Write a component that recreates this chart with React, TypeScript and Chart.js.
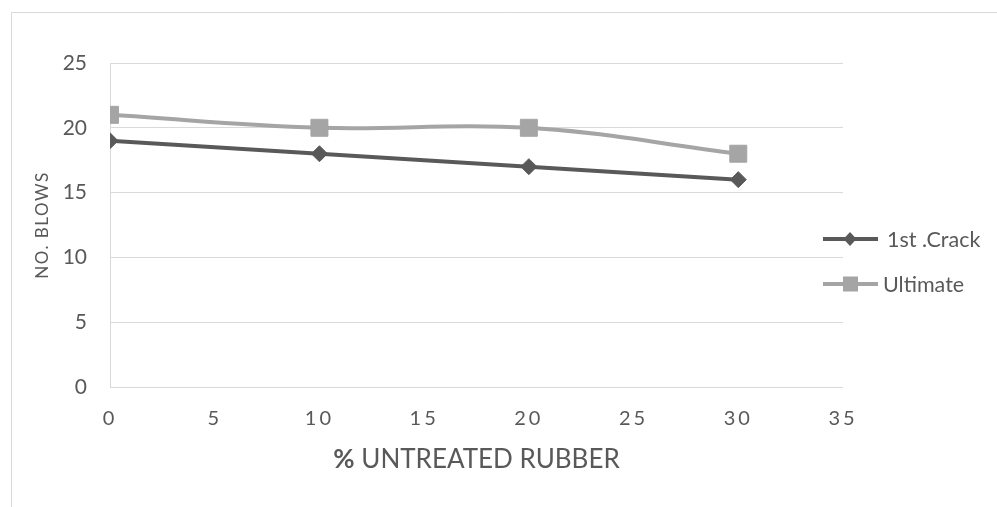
import React, { useEffect, useRef } from "react";
import { Chart, registerables } from "chart.js";

Chart.register(...registerables);

const untreatedRubber = [0, 10, 20, 30];
const firstCrackBlows = [19, 18, 17, 16];
const ultimateBlows = [21, 20, 20, 18];
const seriesNames = ["1st .Crack", "Ultimate"];
const xAxisTitleBold = "%";
const xAxisTitleRest = " UNTREATED RUBBER";
const yAxisTitle = "NO. BLOWS";

const DARK = "#595959";
const LIGHT = "#a5a5a5";
const GRID = "#d9d9d9";
const TEXT = "#595959";
const FONT = "Lato";

// Frame, axis titles and the legend drawn on top of the chart
const decorations = {
  id: "decorations",
  afterDraw(chart: Chart) {
    const ctx = chart.ctx;
    const area = chart.chartArea;
    ctx.save();

    // outer frame (only top and left edges fall inside the canvas)
    ctx.strokeStyle = GRID;
    ctx.lineWidth = 1;
    ctx.beginPath();
    ctx.moveTo(11.5, chart.height);
    ctx.lineTo(11.5, 12.5);
    ctx.lineTo(chart.width, 12.5);
    ctx.stroke();

    // y axis title
    ctx.fillStyle = TEXT;
    ctx.font = `17px ${FONT}`;
    ctx.textAlign = "center";
    ctx.textBaseline = "middle";
    ctx.save();
    (ctx as any).letterSpacing = "1.5px";
    ctx.translate(43, (area.top + area.bottom) / 2);
    ctx.rotate(-Math.PI / 2);
    ctx.fillText(yAxisTitle, 0, 0);
    ctx.restore();

    // x axis title with a bold percent sign
    const boldFont = `bold 26px ${FONT}`;
    const normFont = `26px ${FONT}`;
    ctx.font = boldFont;
    const wBold = ctx.measureText(xAxisTitleBold).width;
    ctx.font = normFont;
    const wRest = ctx.measureText(xAxisTitleRest).width;
    const cx = (area.left + area.right) / 2;
    let tx = cx - (wBold + wRest) / 2;
    const ty = 468;
    ctx.textAlign = "left";
    ctx.textBaseline = "alphabetic";
    ctx.font = boldFont;
    ctx.fillText(xAxisTitleBold, tx, ty);
    tx += wBold;
    ctx.font = normFont;
    ctx.fillText(xAxisTitleRest, tx, ty);

    // legend
    const rows = [239, 284];
    chart.data.datasets.forEach((ds: any, i: number) => {
      const y = rows[i];
      const color = ds.borderColor as string;
      ctx.strokeStyle = color;
      ctx.lineWidth = 4;
      ctx.beginPath();
      ctx.moveTo(823, y);
      ctx.lineTo(878, y);
      ctx.stroke();
      ctx.fillStyle = color;
      ctx.beginPath();
      if (ds.pointStyle === "rectRot") {
        ctx.moveTo(850, y - 7);
        ctx.lineTo(856.5, y);
        ctx.lineTo(850, y + 7);
        ctx.lineTo(843.5, y);
        ctx.closePath();
      } else {
        ctx.rect(843, y - 7.5, 15, 15);
      }
      ctx.fill();
      ctx.fillStyle = TEXT;
      ctx.font = `21.5px ${FONT}`;
      ctx.textAlign = "left";
      ctx.textBaseline = "middle";
      ctx.fillText(seriesNames[i], i === 0 ? 887 : 883, y + 1);
    });

    ctx.restore();
  },
};

export default function App() {
  const canvasRef = useRef<HTMLCanvasElement | null>(null);

  useEffect(() => {
    document.body.style.margin = "0";
    const canvas = canvasRef.current;
    if (!canvas) return;

    const chart = new Chart(canvas, {
      type: "line",
      data: {
        datasets: [
          {
            label: seriesNames[0],
            data: untreatedRubber.map((x, i) => ({ x, y: firstCrackBlows[i] })),
            borderColor: DARK,
            backgroundColor: DARK,
            borderWidth: 4,
            pointStyle: "rectRot",
            pointRadius: 8,
            pointBorderWidth: 1,
            tension: 0.4,
          },
          {
            label: seriesNames[1],
            data: untreatedRubber.map((x, i) => ({ x, y: ultimateBlows[i] })),
            borderColor: LIGHT,
            backgroundColor: LIGHT,
            borderWidth: 4,
            pointStyle: "rect",
            pointRadius: 12,
            pointBorderWidth: 1,
            tension: 0.4,
          },
        ],
      },
      options: {
        responsive: false,
        animation: false,
        layout: { padding: { top: 63, right: 154, left: 0, bottom: 0 } },
        plugins: {
          legend: { display: false },
          tooltip: { enabled: false },
        },
        scales: {
          x: {
            type: "linear",
            min: 0,
            max: 35,
            ticks: {
              stepSize: 5,
              color: TEXT,
              font: { family: FONT, size: 20 },
              padding: 20,
              maxRotation: 0,
            },
            grid: { display: false, drawTicks: false },
            border: { display: false },
            afterFit: (s: any) => {
              s.height = 120;
            },
            afterUpdate: (s: any) => {
              if (s.__spaced) return;
              const orig = s.drawLabels.bind(s);
              s.drawLabels = (ca: any) => {
                const c = s.ctx;
                c.save();
                (c as any).letterSpacing = "3px";
                orig(ca);
                c.restore();
              };
              s.__spaced = true;
            },
          },
          y: {
            min: 0,
            max: 25,
            ticks: {
              stepSize: 5,
              color: TEXT,
              font: { family: FONT, size: 21 },
              padding: 23,
            },
            grid: { color: GRID, lineWidth: 1, drawTicks: false },
            border: { display: true, color: GRID, width: 1 },
            afterFit: (s: any) => {
              s.width = 110;
            },
          },
        },
      },
      plugins: [decorations],
    });

    return () => chart.destroy();
  }, []);

  return <canvas ref={canvasRef} width={997} height={507} style={{ display: "block" }} />;
}
